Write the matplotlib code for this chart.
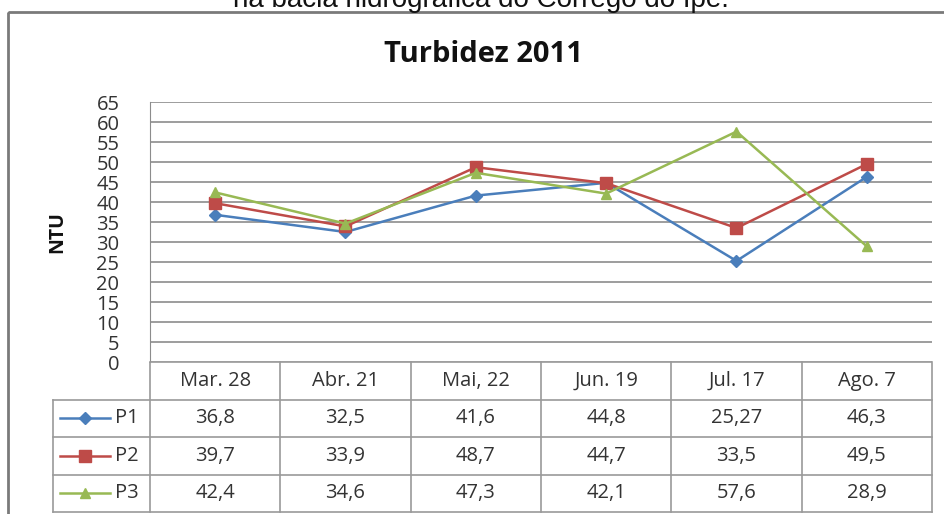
import matplotlib
matplotlib.use("Agg")
import matplotlib.pyplot as plt
from matplotlib.patches import Rectangle

# dados
datas = ["Mar. 28", "Abr. 21", "Mai, 22", "Jun. 19", "Jul. 17", "Ago. 7"]
series = ["P1", "P2", "P3"]
p1 = [36.8, 32.5, 41.6, 44.8, 25.27, 46.3]
p2 = [39.7, 33.9, 48.7, 44.7, 33.5, 49.5]
p3 = [42.4, 34.6, 47.3, 42.1, 57.6, 28.9]
rotulos = [["36,8", "32,5", "41,6", "44,8", "25,27", "46,3"],
           ["39,7", "33,9", "48,7", "44,7", "33,5", "49,5"],
           ["42,4", "34,6", "47,3", "42,1", "57,6", "28,9"]]
yticks = list(range(0, 66, 5))

cores = ["#4a7ebb", "#be4b48", "#98b954"]
marcadores = ["D", "s", "^"]
tam = [6, 8, 7]
grade = "#8c8c8c"
fonte = "Open Sans"

W, H = 945, 514
fig = plt.figure(figsize=(W / 100, H / 100), dpi=100)

# moldura e legenda superior (cortada no topo, como na imagem)
fundo = fig.add_axes([0, 0, 1, 1])
fundo.set_xlim(0, W)
fundo.set_ylim(H, 0)
fundo.axis("off")
fundo.add_patch(Rectangle((8, 12), 960, 520, fill=False, edgecolor="#7a7a7a", lw=2))
fundo.text(481, 7, "na bacia hidrográfica do Córrego do Ipê.", ha="center", va="baseline",
           fontsize=20, family="Liberation Sans", color="#111111")
fundo.text(484, 54, "Turbidez 2011", ha="center", va="center", fontsize=21,
           fontweight="bold", family=fonte, color="#111111")
fundo.text(57, 232, "NTU", rotation=90, ha="center", va="center", fontsize=14,
           fontweight="bold", family=fonte, color="#111111")

# grafico
x0, x1, ytop, ybot = 150, 932, 102, 362
ax = fig.add_axes([x0 / W, 1 - ybot / H, (x1 - x0) / W, (ybot - ytop) / H])
x = range(len(datas))
for vals, c, m, s in zip([p1, p2, p3], cores, marcadores, tam):
    ax.plot(x, vals, color=c, lw=1.8, marker=m, markersize=s, markeredgecolor=c, zorder=3)
ax.set_xlim(-0.5, len(datas) - 0.5)
ax.set_ylim(0, 65)
ax.set_yticks(yticks)
ax.set_yticklabels([str(v) for v in yticks], family=fonte, fontsize=14.5, color="#333333")
ax.tick_params(axis="y", length=0, pad=22)
ax.set_xticks([])
for v in yticks:
    ax.axhline(v, color=grade, lw=1.2, zorder=1)
for k in ["top", "right", "bottom"]:
    ax.spines[k].set_visible(False)
ax.spines["left"].set_color(grade)

# tabela de dados
leg_w = (x0 - 53) / ((x1 - x0) / len(datas))
tb = fig.add_axes([53 / W, 1 - 512 / H, (x1 - 53) / W, 150 / H])
tb.set_xlim(-0.5 - leg_w, len(datas) - 0.5)
tb.set_ylim(4, 0)
tb.axis("off")
lc = "#9a9a9a"
tb.plot([-0.5, len(datas) - 0.5], [0, 0], color=lc, lw=1.2)
for r in range(1, 5):
    tb.plot([-0.5 - leg_w, len(datas) - 0.5], [r, r], color=lc, lw=1.2, clip_on=False)
tb.plot([-0.5 - leg_w] * 2, [1, 4], color=lc, lw=1.2, clip_on=False)
for i in range(len(datas) + 1):
    tb.plot([i - 0.5] * 2, [0, 4], color=lc, lw=1.2, clip_on=False)
for i, d in enumerate(datas):
    tb.text(i, 0.5, d, ha="center", va="center", fontsize=14.5, family=fonte, color="#333333")
for r, (nome, c, m, s) in enumerate(zip(series, cores, marcadores, tam)):
    y = r + 1.5
    tb.plot([-1.19, -0.81], [y, y], color=c, lw=1.8)
    tb.plot([-1.0], [y], color=c, marker=m, markersize=s, markeredgecolor=c)
    tb.text(-0.77, y, nome, ha="left", va="center", fontsize=14.5, family=fonte, color="#333333")
    for i, t in enumerate(rotulos[r]):
        tb.text(i, y, t, ha="center", va="center", fontsize=14.5, family=fonte, color="#333333")

fig.savefig("out.png", dpi=100)
